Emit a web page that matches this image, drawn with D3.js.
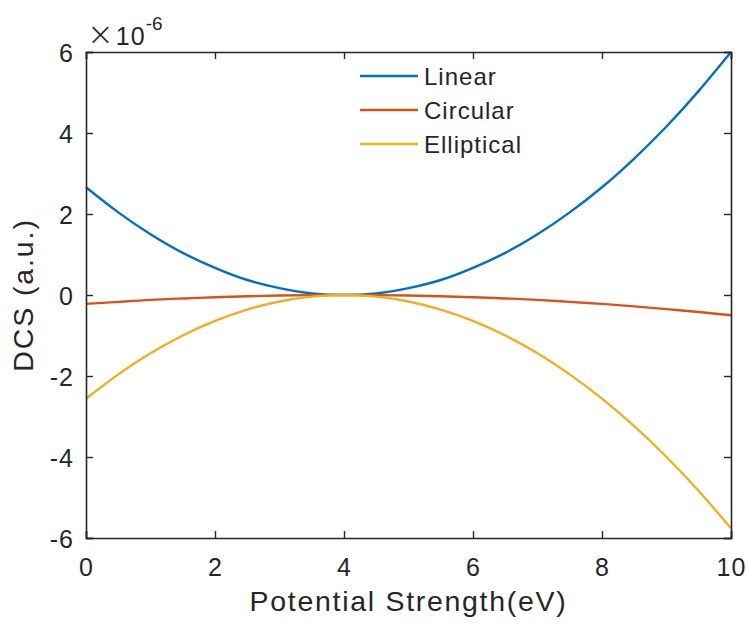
<!DOCTYPE html>
<html>
<head>
<meta charset="utf-8">
<script src="https://cdn.jsdelivr.net/npm/d3@7"></script>
<style>
  body { margin: 0; background: #fff; }
  text { font-family: "Liberation Sans", Arial, Helvetica, sans-serif; fill: #262626; }
</style>
</head>
<body>
<div id="svgWrapper"></div>
<script>
const width = 748;
const height = 625;

// Potential strength (eV)
const xValues = [0, 0.5, 1, 1.5, 2, 2.5, 3, 3.5, 4, 4.5, 5, 5.5, 6, 6.5, 7, 7.5, 8, 8.5, 9, 9.5, 10];

// DCS values, in units of 1e-6
const linear = [2.66, 2.04, 1.50, 1.04, 0.67, 0.37, 0.17, 0.04, 0, 0.04, 0.17, 0.37, 0.67, 1.04, 1.50, 2.04, 2.66, 3.37, 4.16, 5.04, 6.00];
const circular = [-0.22, -0.17, -0.12, -0.086, -0.055, -0.031, -0.014, -0.003, 0, -0.003, -0.014, -0.031, -0.055, -0.086, -0.12, -0.17, -0.22, -0.28, -0.35, -0.42, -0.50];
const elliptical = [-2.56, -1.96, -1.44, -1.00, -0.64, -0.36, -0.16, -0.04, 0, -0.04, -0.16, -0.36, -0.64, -1.00, -1.44, -1.96, -2.56, -3.24, -4.00, -4.84, -5.76];

const seriesNames = ["Linear", "Circular", "Elliptical"];
const seriesColors = ["#0072BD", "#D95319", "#EDB120"];

const xTicks = [0, 2, 4, 6, 8, 10];
const yTicks = [-6, -4, -2, 0, 2, 4, 6];

const margin = { left: 86, right: 17, top: 52, bottom: 87 };

const svg = d3.select("#svgWrapper")
    .append("svg")
    .attr("width", width)
    .attr("height", height);

svg.append("rect")
    .attr("width", width)
    .attr("height", height)
    .attr("fill", "#fff");

const x = d3.scaleLinear().domain([0, 10]).range([margin.left, width - margin.right]);
const y = d3.scaleLinear().domain([-6, 6]).range([height - margin.bottom, margin.top]);

// Curves
const allSeries = [linear, circular, elliptical];
const line = d3.line()
    .x(d => x(d[0]))
    .y(d => y(d[1]))
    .curve(d3.curveNatural);

allSeries.forEach((vals, i) => {
    svg.append("path")
        .datum(xValues.map((xv, j) => [xv, vals[j]]))
        .attr("d", line)
        .attr("fill", "none")
        .attr("stroke", seriesColors[i])
        .attr("stroke-width", 2.4);
});

// Axes (ticks inside, box on)
const tickLen = 7;
const axisColor = "#262626";
const plainFmt = d => String(d); // hyphen minus like MATLAB

const bottomAxis = svg.append("g")
    .attr("transform", `translate(0,${y(-6)})`)
    .call(d3.axisBottom(x).tickValues(xTicks).tickSize(-tickLen).tickPadding(20).tickFormat(plainFmt));
const topAxis = svg.append("g")
    .attr("transform", `translate(0,${y(6)})`)
    .call(d3.axisTop(x).tickValues(xTicks).tickSize(-tickLen).tickFormat(""));
const leftAxis = svg.append("g")
    .attr("transform", `translate(${x(0)},0)`)
    .call(d3.axisLeft(y).tickValues(yTicks).tickSize(-tickLen).tickPadding(12).tickFormat(plainFmt));
const rightAxis = svg.append("g")
    .attr("transform", `translate(${x(10)},0)`)
    .call(d3.axisRight(y).tickValues(yTicks).tickSize(-tickLen).tickFormat(""));

[bottomAxis, topAxis, leftAxis, rightAxis].forEach(g => {
    g.select(".domain").attr("stroke", axisColor).attr("stroke-width", 1.6);
    g.selectAll(".tick line").attr("stroke", axisColor).attr("stroke-width", 1.4);
    g.selectAll(".tick text")
        .attr("fill", axisColor)
        .style("font-size", "25px")
        .style("letter-spacing", "1px")
        .style("font-family", "'Liberation Sans', Arial, sans-serif");
});
bottomAxis.selectAll(".tick text").attr("dy", "0.71em");
leftAxis.selectAll(".tick text").attr("dy", "0.36em");

// Exponent label
const expo = svg.append("text")
    .attr("x", 87)
    .attr("y", 45)
    .style("font-size", "25px");
expo.append("tspan").text("\u00d7").style("font-size", "32px").style("font-family", "'DejaVu Sans', sans-serif").style("font-weight", "200");
expo.append("tspan").text("10").attr("dx", 2).style("letter-spacing", "1px");
expo.append("tspan").text("-6").attr("dy", -15).style("font-size", "19px");

// Axis labels
svg.append("text")
    .attr("x", (x(0) + x(10)) / 2)
    .attr("y", 611)
    .attr("text-anchor", "middle")
    .style("font-size", "28.5px")
    .style("letter-spacing", "1.7px")
    .text("Potential Strength(eV)");

svg.append("text")
    .attr("transform", `translate(33,${(y(-6) + y(6)) / 2}) rotate(-90)`)
    .attr("text-anchor", "middle")
    .style("font-size", "28.5px")
    .style("letter-spacing", "1.9px")
    .text("DCS (a.u.)");

// Legend
const legend = svg.append("g");
seriesNames.forEach((name, i) => {
    const ly = 76 + i * 34;
    legend.append("line")
        .attr("x1", 360).attr("x2", 418)
        .attr("y1", ly).attr("y2", ly)
        .attr("stroke", seriesColors[i])
        .attr("stroke-width", 2.4);
    legend.append("text")
        .attr("x", 424)
        .attr("y", ly)
        .attr("dy", "0.36em")
        .style("font-size", "24px")
        .style("letter-spacing", "1px")
        .attr("fill", "#000")
        .text(name);
});
</script>
</body>
</html>
